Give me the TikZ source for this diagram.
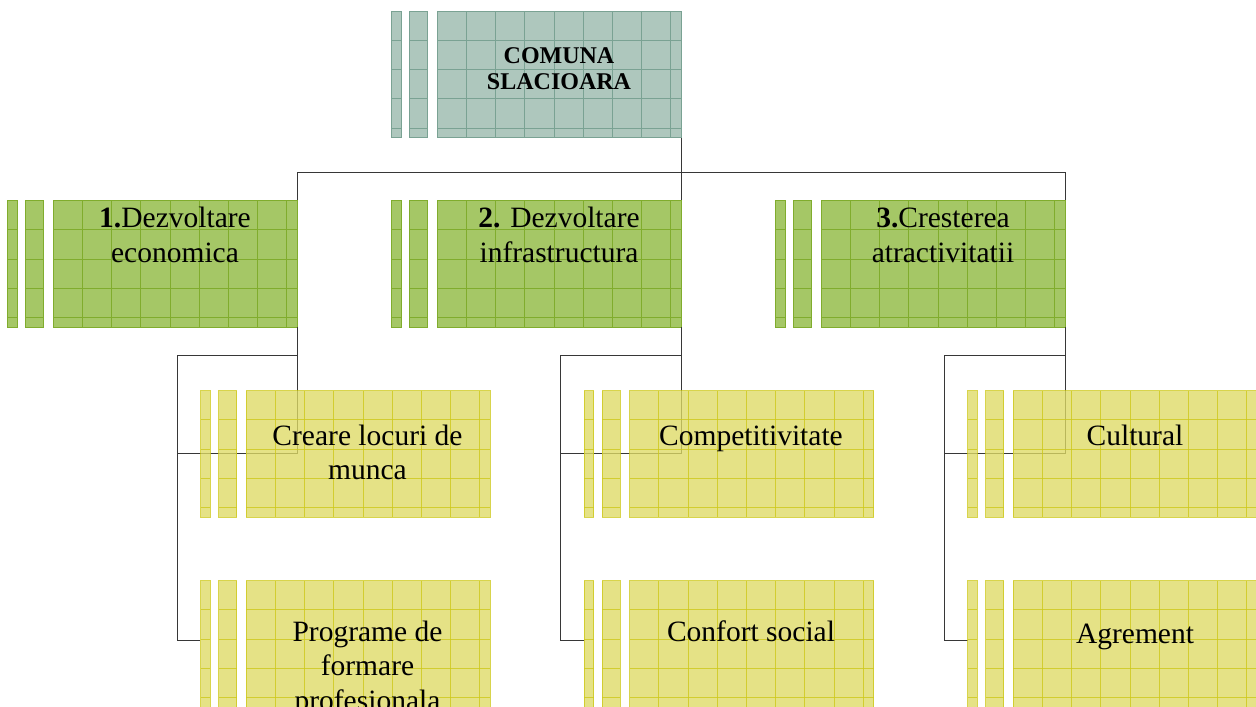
\documentclass[tikz,border=0pt]{standalone}
\usepackage{fontspec}
\setmainfont{Liberation Serif}
\definecolor{topC}{RGB}{174,199,189}
\definecolor{topL}{RGB}{122,162,147}
\definecolor{grnC}{RGB}{165,199,102}
\definecolor{grnL}{RGB}{128,172,45}
\definecolor{yelC}{RGB}{222,218,100}
\definecolor{yelL}{RGB}{205,200,25}
\definecolor{lineC}{RGB}{55,55,55}
\tikzset{
  conn/.style={draw=lineC, line width=1pt},
  mainbox/.style={rectangle, inner sep=0pt, minimum width=244pt, minimum height=126.5pt, line width=0.9pt},
  gl/.style={line width=0.5pt},
  toptext/.style={font=\fontsize{24}{26}\selectfont\bfseries, align=center, inner sep=0pt, anchor=base},
  lvltext/.style={font=\fontsize{29.5}{34.5}\selectfont, align=center, inner sep=0pt, anchor=base},
}
% #1 name, #2 left x of main box, #3 top y, #4 fill colour, #5 line colour, #6 opacity
\newcommand\orgbox[6]{%
  \begin{scope}[fill opacity=#6, draw opacity=#6]
    \filldraw[fill=#4, draw=#5, line width=0.9pt] (#2-45.5,#3) rectangle (#2-36,#3+126.5);
    \filldraw[fill=#4, draw=#5, line width=0.9pt] (#2-27.5,#3) rectangle (#2-9.5,#3+126.5);
    \node[mainbox, fill=#4, draw=#5] (#1) at (#2+122,#3+63.25) {};
    \foreach \k in {1,...,8} \draw[gl, #5] (#2+29.2*\k,#3) -- ++(0,126.5);
    \foreach \k in {1,...,4} {
      \draw[gl, #5] (#2-45.5,#3+29.2*\k) -- (#2-36,#3+29.2*\k);
      \draw[gl, #5] (#2-27.5,#3+29.2*\k) -- (#2-9.5,#3+29.2*\k);
      \draw[gl, #5] (#2,#3+29.2*\k) -- (#2+244,#3+29.2*\k);
    }
  \end{scope}}
\begin{document}
\begin{tikzpicture}[x=1pt,y=-1pt]
\path[use as bounding box] (0,0) rectangle (1256,707);
\clip (0,0) rectangle (1256,707);
% coordinates of the column buses
\coordinate (k1) at (177,355);
\coordinate (k2) at (560.5,355);
\coordinate (k3) at (944,355);
% boxes that do not overlap connectors
\orgbox{top}{437}{11}{topC}{topL}{1}
\orgbox{g1}{53}{200.5}{grnC}{grnL}{1}
\orgbox{g2}{437}{200.5}{grnC}{grnL}{1}
\orgbox{g3}{821}{200.5}{grnC}{grnL}{1}
% connectors
\draw[conn] (top.south east) -- (g2.north east);
\draw[conn] (g1.north east) -- ++(0,-27.5) -| (g3.north east);
\foreach \g/\k in {g1/k1, g2/k2, g3/k3} {
  \coordinate (\g d) at ([yshift=-126pt]\g.south east);
  \draw[conn] (\g.south east) -- (\g d) -| (\k);
  \draw[conn] (\k) -- (\k -| \g.south east);
}
\draw[conn] (k1) -- (177,640) -- (200,640);
\draw[conn] (k2) -- (560.5,640) -- (584,640);
\draw[conn] (k3) -- (944,640) -- (968,640);
% lower level boxes (semi transparent over the connectors)
\orgbox{y1}{246}{390.5}{yelC}{yelL}{0.78}
\orgbox{y2}{246}{580.5}{yelC}{yelL}{0.78}
\orgbox{y3}{629.5}{390.5}{yelC}{yelL}{0.78}
\orgbox{y4}{629.5}{580.5}{yelC}{yelL}{0.78}
\orgbox{y5}{1013}{390.5}{yelC}{yelL}{0.78}
\orgbox{y6}{1013}{580.5}{yelC}{yelL}{0.78}
% texts (base anchor = baseline of the last line)
\node[toptext] (ttop) at (559,89.5) {COMUNA\\SLACIOARA};
\node[lvltext] (tg1) at (175,262) {\textbf{1.}Dezvoltare\\economica};
\node[lvltext] (tg2) at (559,262) {\textbf{2.} Dezvoltare\\infrastructura};
\node[lvltext] (tg3) at (943,262) {\textbf{3.}Cresterea\\atractivitatii};
\node[lvltext] (ty1) at (367.5,479.5) {Creare locuri de\\munca};
\node[lvltext] (ty2) at (367.5,710) {Programe de\\formare\\profesionala};
\node[lvltext] (ty3) at (751,445) {Competitivitate};
\node[lvltext] (ty4) at (751,641) {Confort social};
\node[lvltext] (ty5) at (1135,445) {Cultural};
\node[lvltext] (ty6) at (1135,643) {Agrement};
\end{tikzpicture}
\end{document}
